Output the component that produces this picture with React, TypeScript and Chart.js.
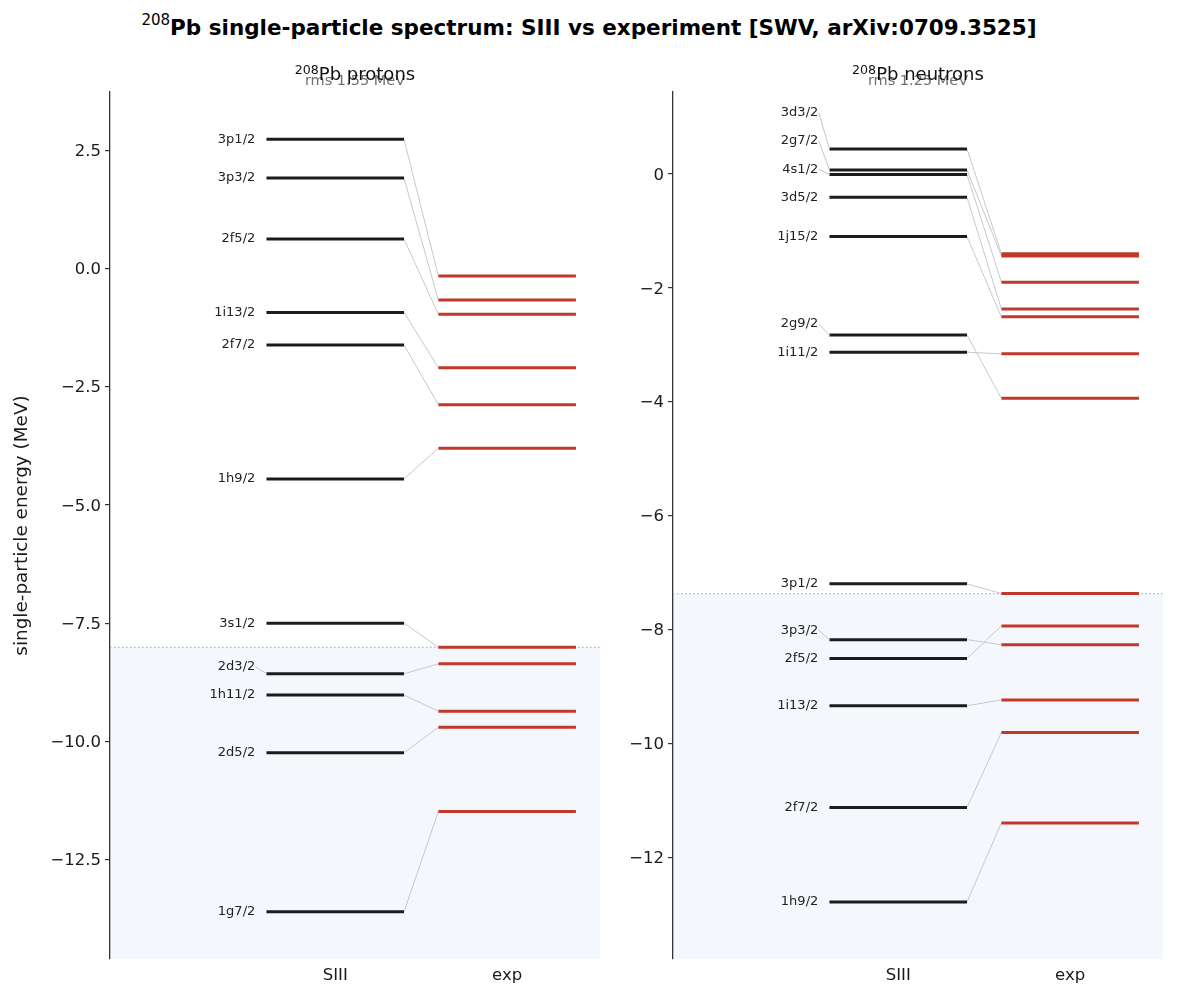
import React, { useEffect, useRef } from 'react';
import { Chart, registerables } from 'chart.js';

Chart.register(...registerables);

const FONT_FAMILY = '"DejaVu Sans", "Noto Sans", sans-serif';

// 208Pb proton single-particle levels (MeV)
const PROTON_STATES = ['3p1/2', '3p3/2', '2f5/2', '1i13/2', '2f7/2', '1h9/2', '3s1/2', '2d3/2', '1h11/2', '2d5/2', '1g7/2'];
const PROTON_SIII = [2.73, 1.91, 0.62, -0.93, -1.62, -4.45, -7.5, -8.57, -9.02, -10.24, -13.6];
const PROTON_EXP = [-0.16, -0.67, -0.97, -2.1, -2.88, -3.8, -8.01, -8.36, -9.36, -9.7, -11.48];
const PROTON_FERMI = -8.01;
const PROTON_RANGE = [-14.6, 3.73];
const PROTON_TICKS = [2.5, 0, -2.5, -5, -7.5, -10, -12.5];
const PROTON_RMS = 'rms 1.55 MeV';

// 208Pb neutron single-particle levels (MeV)
const NEUTRON_STATES = ['3d3/2', '2g7/2', '4s1/2', '3d5/2', '1j15/2', '2g9/2', '1i11/2', '3p1/2', '3p3/2', '2f5/2', '1i13/2', '2f7/2', '1h9/2'];
const NEUTRON_SIII = [0.44, 0.07, -0.01, -0.41, -1.1, -2.83, -3.13, -7.2, -8.18, -8.51, -9.34, -11.13, -12.79];
const NEUTRON_EXP = [-1.4, -1.44, -1.9, -2.37, -2.51, -3.94, -3.16, -7.37, -8.27, -7.94, -9.24, -9.81, -11.4];
const NEUTRON_FERMI = -7.37;
const NEUTRON_RANGE = [-13.79, 1.44];
const NEUTRON_TICKS = [0, -2, -4, -6, -8, -10, -12];
const NEUTRON_RMS = 'rms 1.25 MeV';

const X_TICK_LABELS = ['SIII', 'exp'];
const X_TICK_VALUES = [0, 1];
const X_RANGE = [-1.31, 1.54];

const SIII_COLOR = '#1c1c1c';
const EXP_COLOR = '#c0392b';
const LINK_COLOR = '#c8c8c8';

function makeDatasets(siii: number[], exp: number[]) {
  const common = { pointRadius: 0, borderCapStyle: 'butt', fill: false, tension: 0 };
  const out: any[] = [];
  siii.forEach((e) =>
    out.push({ ...common, data: [{ x: -0.4, y: e }, { x: 0.4, y: e }], borderColor: SIII_COLOR, borderWidth: 3, order: 1 })
  );
  exp.forEach((e) =>
    out.push({ ...common, data: [{ x: 0.6, y: e }, { x: 1.4, y: e }], borderColor: EXP_COLOR, borderWidth: 3, order: 1 })
  );
  siii.forEach((e, i) =>
    out.push({ ...common, data: [{ x: 0.4, y: e }, { x: 0.6, y: exp[i] }], borderColor: LINK_COLOR, borderWidth: 1, order: 3 })
  );
  return out;
}

// Occupied-region shading, Fermi line and the state labels with leader lines
function spectrumPlugin(states: string[], siii: number[], fermi: number) {
  return {
    id: 'spectrumDecor',
    beforeDraw(chart: any) {
      const { ctx, chartArea: a, scales } = chart;
      const yF = scales.y.getPixelForValue(fermi);
      ctx.save();
      ctx.fillStyle = '#f4f7fc';
      ctx.fillRect(a.left, yF, a.right - a.left, a.bottom - yF);
      ctx.restore();
    },
    beforeDatasetsDraw(chart: any) {
      const { ctx, chartArea: a, scales } = chart;
      const yF = scales.y.getPixelForValue(fermi);
      ctx.save();
      ctx.strokeStyle = '#8dbbe8';
      ctx.lineWidth = 1.2;
      ctx.setLineDash([1.5, 2.5]);
      ctx.beginPath();
      ctx.moveTo(a.left, yF);
      ctx.lineTo(a.right, yF);
      ctx.stroke();
      ctx.restore();
    },
    afterDatasetsDraw(chart: any) {
      const { ctx, chartArea: a, scales } = chart;
      const gap = 0.0325 * (a.bottom - a.top);
      const idx = siii.map((_, i) => i).sort((i, j) => siii[i] - siii[j]);
      const labelY: number[] = [];
      let prev = Infinity;
      idx.forEach((i) => {
        const ly = Math.min(scales.y.getPixelForValue(siii[i]), prev - gap);
        labelY[i] = ly;
        prev = ly;
      });
      const xText = scales.x.getPixelForValue(-0.465);
      const xLead = scales.x.getPixelForValue(-0.462);
      const xBar = scales.x.getPixelForValue(-0.4);
      ctx.save();
      ctx.strokeStyle = '#c4c4c4';
      ctx.lineWidth = 1;
      states.forEach((_, i) => {
        const py = scales.y.getPixelForValue(siii[i]);
        if (py - labelY[i] > 0.5) {
          ctx.beginPath();
          ctx.moveTo(xLead, labelY[i]);
          ctx.lineTo(xBar, py);
          ctx.stroke();
        }
      });
      ctx.font = `13px ${FONT_FAMILY}`;
      ctx.fillStyle = '#222';
      ctx.textAlign = 'right';
      ctx.textBaseline = 'middle';
      states.forEach((s, i) => ctx.fillText(s, xText, labelY[i]));
      ctx.restore();
    },
  };
}

type PanelProps = {
  states: string[];
  siii: number[];
  exp: number[];
  fermi: number;
  range: number[];
  ticks: number[];
  digits: number;
  yTitle?: string;
  left: number;
  width: number;
  axisWidth: number;
  padRight: number;
};

function Panel(p: PanelProps) {
  const ref = useRef<HTMLCanvasElement>(null);
  useEffect(() => {
    if (!ref.current) return;
    const chart = new Chart(ref.current, {
      type: 'line',
      data: { datasets: makeDatasets(p.siii, p.exp) },
      options: {
        responsive: false,
        animation: false,
        events: [],
        layout: { padding: { left: 0, right: p.padRight, top: 92, bottom: 0 } },
        plugins: { legend: { display: false }, tooltip: { enabled: false }, title: { display: false } },
        scales: {
          x: {
            type: 'linear',
            min: X_RANGE[0],
            max: X_RANGE[1],
            afterFit: (s: any) => {
              s.height = 36;
            },
            afterBuildTicks: (s: any) => {
              s.ticks = X_TICK_VALUES.map((v) => ({ value: v }));
            },
            grid: { display: false, drawTicks: false },
            border: { display: false },
            ticks: {
              autoSkip: false,
              maxRotation: 0,
              padding: 7,
              color: '#1a1a1a',
              font: { family: FONT_FAMILY, size: 16.5 },
              callback: (_v: any, i: number) => X_TICK_LABELS[i],
            },
          },
          y: {
            type: 'linear',
            min: p.range[0],
            max: p.range[1],
            afterFit: (s: any) => {
              s.width = p.axisWidth;
            },
            afterBuildTicks: (s: any) => {
              s.ticks = p.ticks.map((v) => ({ value: v }));
            },
            grid: { drawOnChartArea: false, drawTicks: true, tickLength: 5, color: '#333', lineWidth: 1.2 },
            border: { display: true, color: '#333', width: 1.3 },
            ticks: {
              padding: 4,
              labelOffset: 1.5,
              color: '#1a1a1a',
              font: { family: FONT_FAMILY, size: 16.5 },
              callback: (v: any) => Number(v).toFixed(p.digits).replace('-', '\u2212'),
            },
            title: {
              display: !!p.yTitle,
              text: p.yTitle || '',
              color: '#1a1a1a',
              font: { family: FONT_FAMILY, size: 18.4 },
              padding: { top: 11, bottom: 0 },
            },
          },
        },
      } as any,
      plugins: [spectrumPlugin(p.states, p.siii, p.fermi)],
    });
    return () => chart.destroy();
  }, []);
  return (
    <canvas
      ref={ref}
      width={p.width}
      height={995}
      style={{ position: 'absolute', left: p.left, top: 0, width: p.width, height: 995, display: 'block' }}
    />
  );
}

function PanelTitle({ center, label, rms }: { center: number; label: string; rms: string }) {
  return (
    <>
      <div
        style={{
          position: 'absolute',
          left: center - 150,
          width: 300,
          top: 70,
          lineHeight: '20px',
          textAlign: 'center',
          fontFamily: FONT_FAMILY,
          fontSize: 14.5,
          color: '#707070',
        }}
      >
        {rms}
      </div>
      <div
        style={{
          position: 'absolute',
          left: center - 150,
          width: 300,
          top: 62,
          lineHeight: '24px',
          textAlign: 'center',
          fontFamily: FONT_FAMILY,
          fontSize: 18,
          color: '#111',
        }}
      >
        <sup style={{ fontSize: '0.7em', lineHeight: 0, verticalAlign: '6px' }}>208</sup>
        {label}
      </div>
    </>
  );
}

export default function App() {
  return (
    <div style={{ position: 'absolute', left: 0, top: 0, width: 1178, height: 995, background: '#fff', overflow: 'hidden' }}>
      <div
        style={{
          position: 'absolute',
          left: 0,
          top: 14,
          width: 1178,
          lineHeight: '28px',
          textAlign: 'center',
          fontFamily: FONT_FAMILY,
          fontWeight: 'bold',
          fontSize: 21.5,
          color: '#000',
        }}
      >
        <sup style={{ fontSize: '0.7em', lineHeight: 0, verticalAlign: '10px', fontWeight: 'normal' }}>208</sup>
        Pb single-particle spectrum: SIII vs experiment [SWV, arXiv:0709.3525]
      </div>
      <Panel
        states={PROTON_STATES}
        siii={PROTON_SIII}
        exp={PROTON_EXP}
        fermi={PROTON_FERMI}
        range={PROTON_RANGE}
        ticks={PROTON_TICKS}
        digits={1}
        yTitle="single-particle energy (MeV)"
        left={0}
        width={610}
        axisWidth={110}
        padRight={10}
      />
      <Panel
        states={NEUTRON_STATES}
        siii={NEUTRON_SIII}
        exp={NEUTRON_EXP}
        fermi={NEUTRON_FERMI}
        range={NEUTRON_RANGE}
        ticks={NEUTRON_TICKS}
        digits={0}
        left={610}
        width={568}
        axisWidth={63}
        padRight={15}
      />
      <PanelTitle center={355} label="Pb protons" rms={PROTON_RMS} />
      <PanelTitle center={918} label="Pb neutrons" rms={NEUTRON_RMS} />
    </div>
  );
}
